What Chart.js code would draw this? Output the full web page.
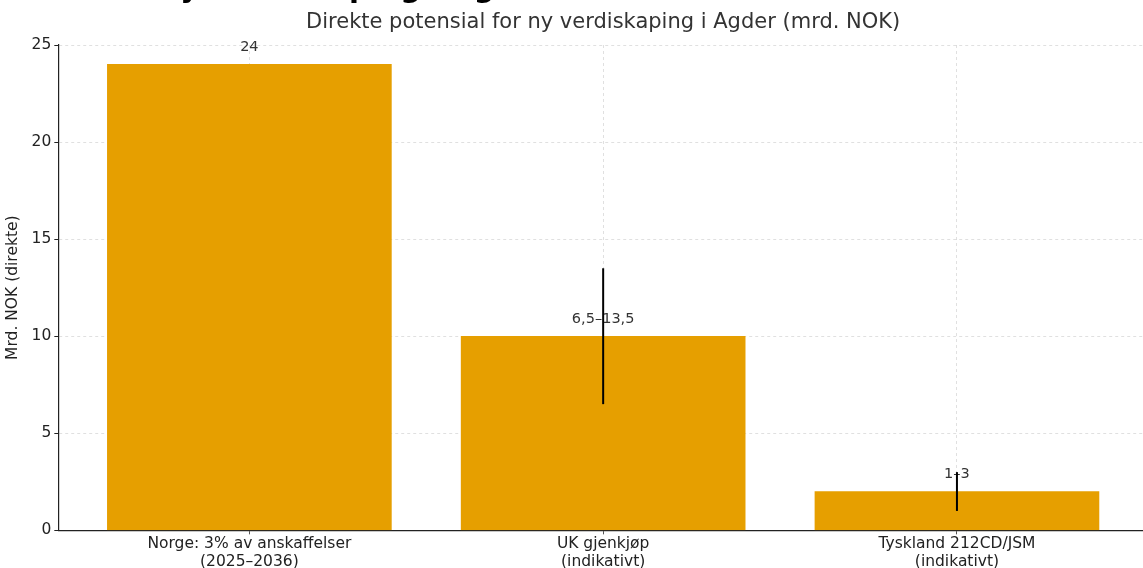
<!DOCTYPE html>
<html>
<head>
<meta charset="utf-8">
<script src="https://cdn.jsdelivr.net/npm/chart.js@4"></script>
<style>
  html, body { margin: 0; padding: 0; background: #fff; overflow: hidden; width: 1143px; height: 568px; }
  #wrap { position: relative; width: 1150px; height: 572px; }
</style>
</head>
<body>
<div id="wrap"><canvas id="barChart"></canvas></div>
<script>
// kategorier og verdier (mrd. NOK)
var categories = [['Norge: 3% av anskaffelser', '(2025–2036)'], ['UK gjenkjøp', '(indikativt)'], ['Tyskland 212CD/JSM', '(indikativt)']];
var values = [24, 10, 2];
var errLow = [null, 6.5, 1];
var errHigh = [null, 13.5, 3];
var valueLabels = ['24', '6,5–13,5', '1–3'];
var yTicks = [0, 5, 10, 15, 20, 25];

var barColor = '#E69F00';
var gridColor = 'rgba(0,0,0,0.12)';

// tittel, verdietiketter og feilstolper
var extras = {
    id: 'extras',
    afterDraw: function (chart) {
        var ctx = chart.ctx;
        var x = chart.scales.x, y = chart.scales.y;
        var area = chart.chartArea;
        ctx.save();
        // avkuttet hovedtittel
        ctx.fillStyle = '#000';
        ctx.font = 'bold 29px "DejaVu Sans"';
        ctx.textAlign = 'left';
        ctx.textBaseline = 'alphabetic';
        ctx.fillText('Ny verdiskaping i Agder', 156, -3.5);
        // undertittel
        ctx.fillStyle = '#333';
        ctx.font = '21px "DejaVu Sans"';
        ctx.textAlign = 'center';
        ctx.textBaseline = 'middle';
        ctx.fillText('Direkte potensial for ny verdiskaping i Agder (mrd. NOK)', (area.left + area.right) / 2, 23);
        // verdietiketter
        ctx.font = '14.5px "DejaVu Sans"';
        ctx.fillStyle = '#333';
        for (var i = 0; i < values.length; i++) {
            var px = x.getPixelForValue(i);
            var py = y.getPixelForValue(values[i]);
            ctx.fillText(valueLabels[i], px, py - 17);
        }
        // feilstolper
        ctx.strokeStyle = '#000';
        ctx.lineWidth = 2;
        for (var j = 0; j < values.length; j++) {
            if (errLow[j] === null) continue;
            var ex = x.getPixelForValue(j);
            ctx.beginPath();
            ctx.moveTo(ex, y.getPixelForValue(errLow[j]));
            ctx.lineTo(ex, y.getPixelForValue(errHigh[j]));
            ctx.stroke();
        }
        ctx.restore();
    }
};

var points = values.map(function (v, i) { return { x: i, y: v }; });

var chartArea1 = document.getElementById('barChart').getContext('2d');
var myChart1 = new Chart(chartArea1, {
    type: 'bar',
    data: {
        datasets: [{
            data: points,
            backgroundColor: barColor,
            borderWidth: 0,
            barThickness: 284
        }]
    },
    options: {
        responsive: true,
        maintainAspectRatio: false,
        animation: false,
        layout: { padding: { top: 45, right: 2, left: 4, bottom: 0 } },
        plugins: {
            legend: { display: false },
            tooltip: { enabled: false }
        },
        scales: {
            x: {
                type: 'linear',
                offset: false,
                min: -0.54,
                max: 2.54,
                z: 1,
                afterBuildTicks: function (scale) {
                    scale.ticks = values.map(function (v, i) { return { value: i }; });
                },
                ticks: {
                    callback: function (val) { return categories[val]; },
                    color: '#222',
                    font: { family: 'DejaVu Sans', size: 15.5, lineHeight: 1.15 },
                    maxRotation: 0,
                    padding: 1
                },
                grid: {
                    offset: false,
                    color: gridColor,
                    tickColor: '#555',
                    tickBorderDash: [],
                    tickLength: 4
                },
                border: { display: true, color: '#222', width: 1.2, dash: [3, 3] }
            },
            y: {
                min: 0,
                max: 25,
                z: 1,
                afterBuildTicks: function (scale) {
                    scale.ticks = yTicks.map(function (v) { return { value: v }; });
                },
                title: {
                    display: true,
                    text: 'Mrd. NOK (direkte)',
                    color: '#222',
                    font: { family: 'DejaVu Sans', size: 15.5 },
                    padding: { top: 0, bottom: 6 }
                },
                ticks: {
                    color: '#222',
                    font: { family: 'DejaVu Sans', size: 15.5 },
                    padding: 3
                },
                grid: {
                    color: gridColor,
                    tickColor: '#222',
                    tickBorderDash: [],
                    tickLength: 4
                },
                border: { display: true, color: '#222', width: 1.2, dash: [3, 3] }
            }
        }
    },
    plugins: [extras]
});
</script>
</body>
</html>
